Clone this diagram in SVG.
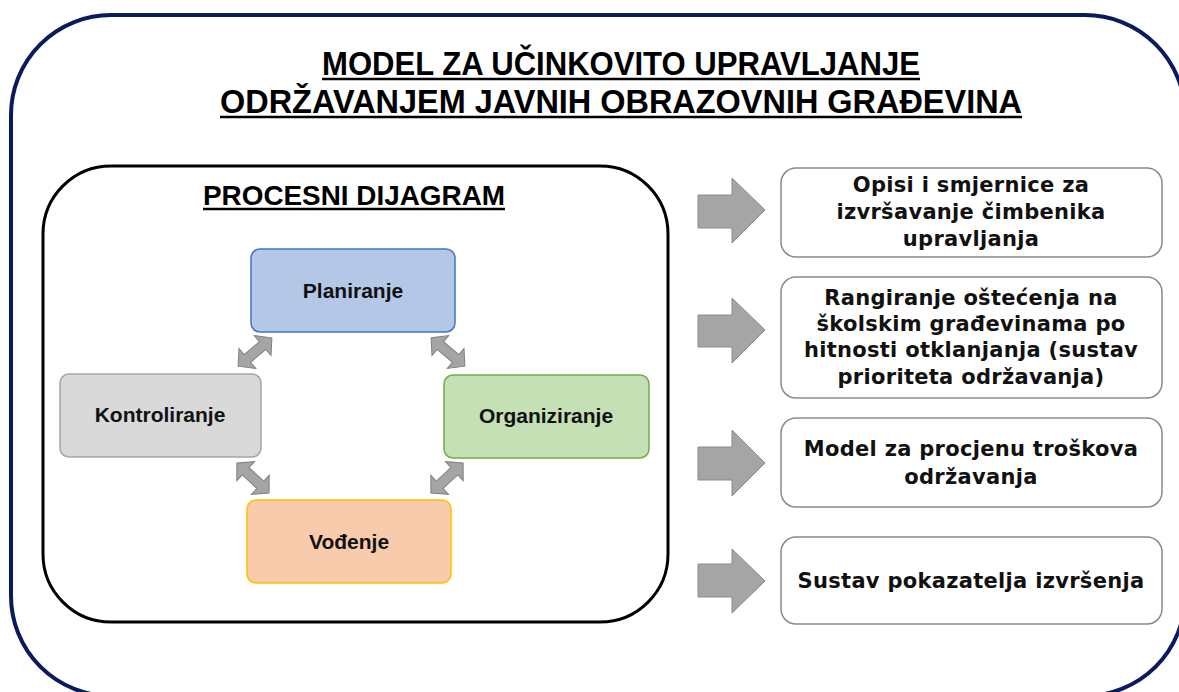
<svg xmlns="http://www.w3.org/2000/svg" width="1179" height="692" viewBox="0 0 1179 692">
<style>
.title{font-family:"Liberation Sans",Arial,sans-serif;font-weight:bold;font-size:34px;fill:#000;text-anchor:middle}
.sub{font-family:"Liberation Sans",Arial,sans-serif;font-weight:bold;font-size:28px;fill:#000;text-anchor:middle}
.ul{stroke:#000;stroke-width:2.5}
.node{stroke-width:1.5}
.nl{font-family:"Liberation Sans",Arial,sans-serif;font-weight:bold;font-size:21px;fill:#111;text-anchor:middle}
.rb{fill:#fff;stroke:#8a8a8a;stroke-width:1.5}
.rt{font-family:"DejaVu Sans","Liberation Sans",sans-serif;font-weight:bold;font-size:21px;letter-spacing:0.3px;fill:#111;text-anchor:middle}
.da{fill:#a5a5a5;stroke:#7f7f7f;stroke-width:1}
.ba{fill:#a5a5a5;stroke:#8a8a8a;stroke-width:1}
</style>
<defs>
<polygon id="dbl" points="-22,0 -10,-13 -10,-5 10,-5 10,-13 22,0 10,13 10,5 -10,5 -10,13"/>
</defs>
<rect x="11" y="15" width="1174" height="681" rx="100" fill="#fff" stroke="#0b1a5c" stroke-width="4"/>
<g id="title">
<text class="title" x="621" y="75" textLength="598" lengthAdjust="spacingAndGlyphs">MODEL ZA UČINKOVITO UPRAVLJANJE</text>
<line class="ul" x1="322" y1="79" x2="920" y2="79"/>
<text class="title" x="621" y="113" textLength="802" lengthAdjust="spacingAndGlyphs">ODRŽAVANJEM JAVNIH OBRAZOVNIH GRAĐEVINA</text>
<line class="ul" x1="220" y1="117" x2="1022" y2="117"/>
</g>
<g id="process-diagram">
<rect x="43" y="166" width="625" height="456" rx="68" fill="#fff" stroke="#000" stroke-width="3"/>
<text class="sub" x="354" y="205" textLength="302" lengthAdjust="spacingAndGlyphs">PROCESNI DIJAGRAM</text>
<line class="ul" x1="203" y1="209" x2="505" y2="209"/>
</g>
<g id="planiranje">
<rect class="node" x="251" y="249" width="204" height="83" rx="9" fill="#b4c7e7" stroke="#4472c4"/>
<text class="nl" x="353" y="298">Planiranje</text>
</g>
<g id="organiziranje">
<rect class="node" x="444" y="375" width="205" height="83" rx="9" fill="#c5e0b4" stroke="#70ad47"/>
<text class="nl" x="546" y="423">Organiziranje</text>
</g>
<g id="kontroliranje">
<rect class="node" x="60" y="374" width="201" height="83" rx="9" fill="#d9d9d9" stroke="#a5a5a5"/>
<text class="nl" x="160" y="422">Kontroliranje</text>
</g>
<g id="vodjenje">
<rect class="node" x="247" y="500" width="204" height="83" rx="9" fill="#f8cbad" stroke="#ffc000"/>
<text class="nl" x="349" y="549">Vođenje</text>
</g>
<g id="connectors">
<use href="#dbl" class="da" transform="translate(255,352) rotate(-40)"/>
<use href="#dbl" class="da" transform="translate(448,352) rotate(40)"/>
<use href="#dbl" class="da" transform="translate(253,478) rotate(43)"/>
<use href="#dbl" class="da" transform="translate(447,478) rotate(-43)"/>
<polygon class="ba" points="698,195 732,195 732,178 765,210 732,243 732,228 698,228"/>
<polygon class="ba" points="698,315 732,315 732,298 765,330 732,363 732,347 698,347"/>
<polygon class="ba" points="698,447 732,447 732,430 765,463 732,496 732,480 698,480"/>
<polygon class="ba" points="698,564 732,564 732,549 765,581 732,613 732,597 698,597"/>
</g>
<g id="out1">
<rect class="rb" x="781" y="168" width="381" height="89" rx="15"/>
<text class="rt" x="971" y="192">Opisi i smjernice za</text>
<text class="rt" x="971" y="219">izvršavanje čimbenika</text>
<text class="rt" x="971" y="246">upravljanja</text>
</g>
<g id="out2">
<rect class="rb" x="781" y="277" width="381" height="121" rx="15"/>
<text class="rt" x="971" y="305">Rangiranje oštećenja na</text>
<text class="rt" x="971" y="331">školskim građevinama po</text>
<text class="rt" x="971" y="357">hitnosti otklanjanja (sustav</text>
<text class="rt" x="971" y="384">prioriteta održavanja)</text>
</g>
<g id="out3">
<rect class="rb" x="781" y="418" width="381" height="89" rx="15"/>
<text class="rt" x="971" y="456">Model za procjenu troškova</text>
<text class="rt" x="971" y="484">održavanja</text>
</g>
<g id="out4">
<rect class="rb" x="781" y="537" width="381" height="87" rx="15"/>
<text class="rt" x="971" y="588">Sustav pokazatelja izvršenja</text>
</g>
</svg>
